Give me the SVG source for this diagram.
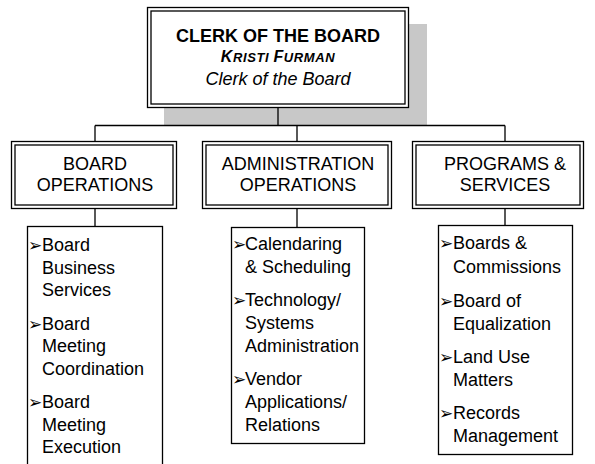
<svg xmlns="http://www.w3.org/2000/svg" width="595" height="464" viewBox="0 0 595 464">
<style>
  .t { font-family: "Liberation Sans", Arial, sans-serif; font-size: 18px; fill: #000; }
  .c { text-anchor: middle; }
  .b { font-family: "DejaVu Sans", sans-serif; font-size: 17px; fill: #000; }
  .ln { stroke: #000; stroke-width: 1.3; fill: none; }
  .box { fill: #fff; stroke: #000; stroke-width: 1.3; }
  .in { fill: none; stroke: #000; stroke-width: 1.3; }
</style>
<rect width="595" height="464" fill="#fff"/>
<rect x="164" y="24" width="263" height="101" fill="#c8c8c8"/>
<g id="connectors">
  <path class="ln" d="M278 108V125.5M95 125.5H505M95 125.5V141M297 125.5V141M505 125.5V141M95 208V226M297 208V227M505 208V225"/>
</g>
<g id="clerk">
  <rect class="box" x="147.5" y="7.5" width="261" height="100"/>
  <rect class="in" x="151" y="11" width="254" height="93"/>
  <text class="t c" x="278" y="42" font-weight="bold" font-size="18.3">CLERK OF THE BOARD</text>
  <text class="t c" x="278" y="62" font-weight="bold" font-style="italic" letter-spacing="0.6"><tspan font-size="16">K</tspan><tspan font-size="13">RISTI </tspan><tspan font-size="16">F</tspan><tspan font-size="13">URMAN</tspan></text>
  <text class="t c" x="278" y="85" font-style="italic">Clerk of the Board</text>
</g>
<g id="board-operations">
  <rect class="box" x="11.5" y="141.5" width="165" height="67"/>
  <rect class="in" x="15" y="145" width="158" height="60"/>
  <text class="t c" x="95" y="170">BOARD</text>
  <text class="t c" x="95" y="191">OPERATIONS</text>
</g>
<g id="administration-operations">
  <rect class="box" x="202.5" y="141.5" width="189" height="67"/>
  <rect class="in" x="206" y="145" width="182" height="60"/>
  <text class="t c" x="298" y="170">ADMINISTRATION</text>
  <text class="t c" x="298" y="191">OPERATIONS</text>
</g>
<g id="programs-services">
  <rect class="box" x="412.5" y="141.5" width="171" height="67"/>
  <rect class="in" x="416" y="145" width="164" height="60"/>
  <text class="t c" x="505" y="170">PROGRAMS &amp;</text>
  <text class="t c" x="505" y="191">SERVICES</text>
</g>
<g id="board-operations-list">
  <rect class="box" x="27.5" y="226.5" width="135" height="250"/>
  <text class="b" x="28" y="251">➢</text>
  <text class="t" x="42" y="251">Board</text>
  <text class="t" x="42" y="274">Business</text>
  <text class="t" x="42" y="296">Services</text>
  <text class="b" x="28" y="330">➢</text>
  <text class="t" x="42" y="330">Board</text>
  <text class="t" x="42" y="352">Meeting</text>
  <text class="t" x="42" y="375">Coordination</text>
  <text class="b" x="28" y="408">➢</text>
  <text class="t" x="42" y="408">Board</text>
  <text class="t" x="42" y="431">Meeting</text>
  <text class="t" x="42" y="453">Execution</text>
</g>
<g id="administration-operations-list">
  <rect class="box" x="231.5" y="227.5" width="133" height="216"/>
  <text class="b" x="232" y="250">➢</text>
  <text class="t" x="245" y="250">Calendaring</text>
  <text class="t" x="245" y="273">&amp; Scheduling</text>
  <text class="b" x="232" y="306">➢</text>
  <text class="t" x="245" y="306">Technology/</text>
  <text class="t" x="245" y="329">Systems</text>
  <text class="t" x="245" y="352">Administration</text>
  <text class="b" x="232" y="385">➢</text>
  <text class="t" x="245" y="385">Vendor</text>
  <text class="t" x="245" y="408">Applications/</text>
  <text class="t" x="245" y="431">Relations</text>
</g>
<g id="programs-services-list">
  <rect class="box" x="438.5" y="225.5" width="134" height="229"/>
  <text class="b" x="439" y="249">➢</text>
  <text class="t" x="453" y="249">Boards &amp;</text>
  <text class="t" x="453" y="273">Commissions</text>
  <text class="b" x="439" y="307">➢</text>
  <text class="t" x="453" y="307">Board of</text>
  <text class="t" x="453" y="330">Equalization</text>
  <text class="b" x="439" y="363">➢</text>
  <text class="t" x="453" y="363">Land Use</text>
  <text class="t" x="453" y="386">Matters</text>
  <text class="b" x="439" y="419">➢</text>
  <text class="t" x="453" y="419">Records</text>
  <text class="t" x="453" y="442">Management</text>
</g>
</svg>
